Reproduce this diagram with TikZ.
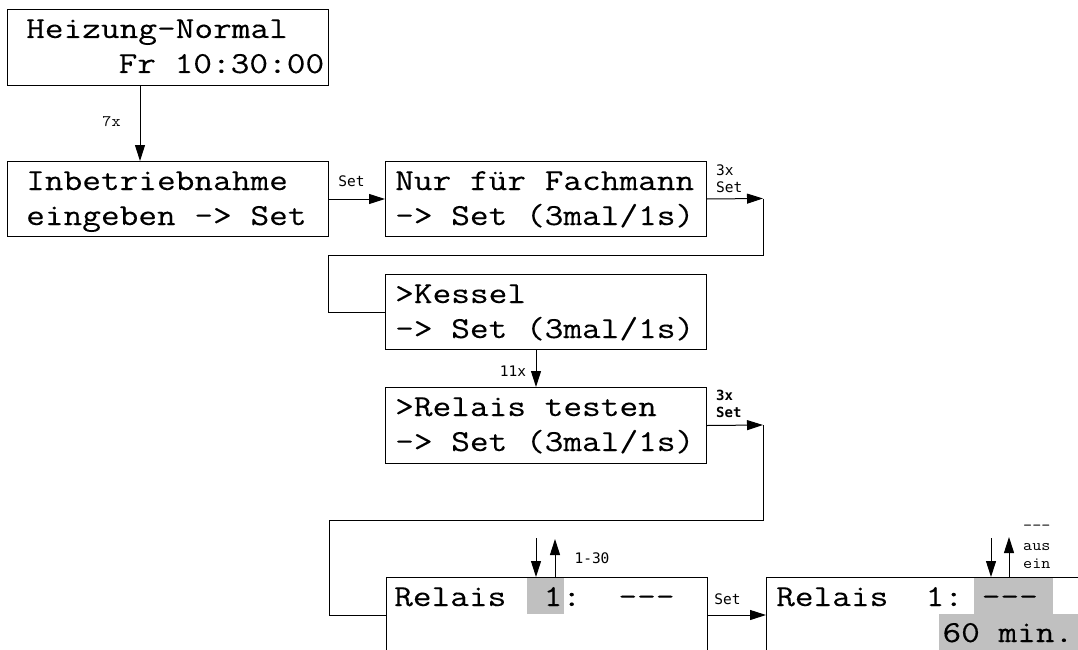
\documentclass[tikz,border=0pt]{standalone}
\usepackage{fontspec}
\usetikzlibrary{arrows.meta}
\newfontfamily\cmono[FakeStretch=1.19,FakeBold=0.2]{Latin Modern Mono}
\newfontfamily\cmonos[FakeStretch=1.1]{Latin Modern Mono}
\newfontfamily\djmono{DejaVu Sans Mono}
\definecolor{hl}{RGB}{192,192,192}
\tikzset{
  box/.style={draw=black, line width=1pt, inner sep=0pt, anchor=north west, minimum width=321pt, minimum height=75pt},
  big/.style={anchor=base west, inner sep=0pt, font=\cmono\fontsize{30.5pt}{36pt}\selectfont},
  lbl/.style={inner sep=0pt, font=\djmono\fontsize{14.5pt}{16pt}\selectfont},
  lblb/.style={inner sep=0pt, font=\djmono\bfseries\fontsize{14pt}{16pt}\selectfont},
  lblc/.style={inner sep=0pt, font=\cmonos\fontsize{16pt}{16pt}\selectfont},
  arr/.style={line width=1pt, -{Triangle[length=16pt,width=10pt]}},
  ln/.style={line width=1pt}
}
\begin{document}
\begin{tikzpicture}[x=1pt,y=-1pt]
\useasboundingbox (0,0) rectangle (1078,650);
% highlights
\fill[hl] (527,577) rectangle (564,614);
\fill[hl] (974,577) rectangle (1053,614);
\fill[hl] (939,614) rectangle (1090,660);
% boxes
\node[box, minimum height=76pt] (b1) at (7,9) {};
\node[box] (b2) at (7,161) {};
\node[box] (b3) at (385,161) {};
\node[box] (b4) at (385,274) {};
\node[box, minimum height=76pt] (b5) at (385,387) {};
\node[box] (b6) at (386,577) {};
\node[box] (b7) at (766,577) {};
% texts
\node[big] (t1a) at (26,38) {Heizung-Normal};
\node[big] (t1b) at (118.4,73) {Fr 10:30:00};
\node[big] (t2a) at (26,190) {Inbetriebnahme};
\node[big] (t2b) at (26,225) {eingeben -> Set};
\node[big] (t3a) at (395,190) {Nur für Fachmann};
\node[big] (t3b) at (395,225) {-> Set (3mal/1s)};
\node[big] (t4a) at (395,303) {>Kessel};
\node[big] (t4b) at (395,338) {-> Set (3mal/1s)};
\node[big] (t5a) at (395,416) {>Relais testen};
\node[big] (t5b) at (395,451) {-> Set (3mal/1s)};
\node[big] (t6a) at (394,606) {Relais~~1:~~---};
\node[big] (t7a) at (776,606) {Relais~~1:~---};
\node[big] (t7b) at (942.3,642) {60 min.};
% connectors
\coordinate (k1) at (140,0);
\draw[arr] (b1.south -| k1) -- (b2.north -| k1);
\draw[arr] (b2.east) -- (b3.west);
\coordinate (c1) at (763,198.5);
\coordinate (c2) at (328,255);
\draw[arr] (b3.east) -- (c1);
\draw[ln] (c1) |- (c2) |- (b4.west);
\coordinate (k2) at (536,0);
\draw[arr] (b4.south -| k2) -- (b5.north -| k2);
\coordinate (c3) at (763,425);
\coordinate (c4) at (329,520);
\draw[arr] (b5.east) -- (c3);
\draw[ln] (c3) |- (c4) |- (b6.west);
\draw[arr] (b6.east) -- (b7.west);
\coordinate (d1) at (536,538);
\coordinate (u1) at (555,539);
\draw[arr] (d1) -- (d1 |- b6.north);
\draw[arr] (u1 |- b6.north) -- (u1);
\coordinate (d2) at (991,538);
\coordinate (u2) at (1009,537);
\draw[arr] (d2) -- (d2 |- b7.north);
\draw[arr] (u2 |- b7.north) -- (u2);
% labels
\node[lblc] (l7x) at (111.5,122) {7x};
\node[lbl] (lset1) at (351.5,181) {Set};
\node[lbl, anchor=west] (l3xa) at (716,170) {3x};
\node[lbl, anchor=west] (lset2) at (716,187) {Set};
\node[lbl] (l11x) at (513,371) {11x};
\node[lblb, anchor=west] (l3xb) at (716,395) {3x};
\node[lblb, anchor=west] (lset3) at (716,412) {Set};
\node[lbl] (l130) at (592,558) {1-30};
\node[lbl] (lset4) at (727.5,599) {Set};
\node[lblc, anchor=west] (ldash) at (1023,528) {---};
\node[lblc, anchor=west] (laus) at (1023,547) {aus};
\node[lblc, anchor=west] (lein) at (1023,564) {ein};
\end{tikzpicture}
\end{document}
